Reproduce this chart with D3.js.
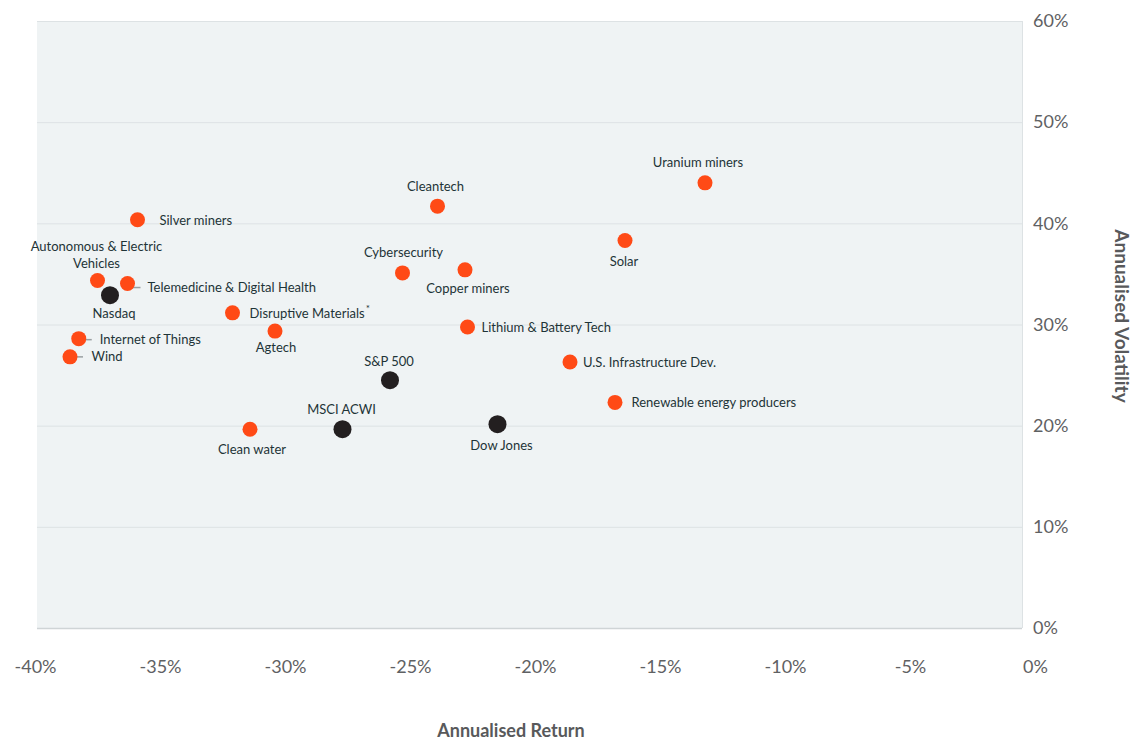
<!DOCTYPE html>
<html>
<head>
<meta charset="utf-8">
<script src="https://cdnjs.cloudflare.com/ajax/libs/d3/7.8.5/d3.min.js"></script>
<style>
  body { margin: 0; background: #fff; }
  svg { display: block; font-family: Lato, "Open Sans", sans-serif; }
</style>
</head>
<body>
<script>
// Chart data: annualised return (%) vs annualised volatility (%)
var names = ["Uranium miners", "Cleantech", "Silver miners", "Solar", "Cybersecurity",
  "Copper miners", "Autonomous & Electric Vehicles", "Telemedicine & Digital Health",
  "Nasdaq", "Disruptive Materials", "Agtech", "Lithium & Battery Tech",
  "Internet of Things", "Wind", "S&P 500", "U.S. Infrastructure Dev.",
  "Renewable energy producers", "Clean water", "MSCI ACWI", "Dow Jones"];
var returns = [-13.2, -23.9, -35.9, -16.4, -25.3, -22.8, -37.5, -36.3, -37.0, -32.1,
  -30.4, -22.7, -38.25, -38.6, -25.8, -18.6, -16.8, -31.4, -27.7, -21.5];
var volatility = [44.0, 41.7, 40.35, 38.3, 35.1, 35.4, 34.35, 34.05, 32.9, 31.15,
  29.35, 29.75, 28.6, 26.8, 24.5, 26.3, 22.3, 19.65, 19.65, 20.15];
var isIndex = ["Nasdaq", "S&P 500", "MSCI ACWI", "Dow Jones"];
var xTicks = [-40, -35, -30, -25, -20, -15, -10, -5, 0];
var yTicks = [0, 10, 20, 30, 40, 50, 60];

// label placement: anchor, dx, dy (baseline), optional leader line length
var labelPos = {
  "Uranium miners": ["middle", -7, -16],
  "Cleantech": ["middle", -2, -15],
  "Silver miners": ["start", 22, 5],
  "Solar": ["middle", -1, 25],
  "Cybersecurity": ["middle", 1, -16],
  "Copper miners": ["middle", 3, 23],
  "Autonomous & Electric Vehicles": ["middle", -1, -29],
  "Telemedicine & Digital Health": ["start", 20, 8, 13],
  "Nasdaq": ["middle", 4, 23],
  "Disruptive Materials": ["start", 17, 5],
  "Agtech": ["middle", 1, 21],
  "Lithium & Battery Tech": ["start", 14, 5],
  "Internet of Things": ["start", 21, 5, 13],
  "Wind": ["start", 21.5, 4, 13],
  "S&P 500": ["middle", -1, -14],
  "U.S. Infrastructure Dev.": ["start", 13, 5],
  "Renewable energy producers": ["start", 16.5, 5],
  "Clean water": ["middle", 2, 25],
  "MSCI ACWI": ["middle", -1, -15],
  "Dow Jones": ["middle", 4, 26]
};

var width = 1145, height = 742;
var plot = {left: 37, right: 1022, top: 21, bottom: 628};

var svg = d3.select("body").append("svg")
  .attr("width", width)
  .attr("height", height);

var x = d3.scaleLinear().domain([-40, 0]).range([35, 1035]);
var y = d3.scaleLinear().domain([0, 60]).range([plot.bottom, plot.top]);

// plot background
svg.append("rect")
  .attr("x", plot.left)
  .attr("y", plot.top)
  .attr("width", plot.right - plot.left)
  .attr("height", plot.bottom - plot.top)
  .attr("fill", "#eff3f4");

// gridlines
svg.append("g").selectAll("line")
  .data(yTicks)
  .enter().append("line")
  .attr("x1", plot.left)
  .attr("x2", plot.right)
  .attr("y1", function(d) { return y(d) + 0.5; })
  .attr("y2", function(d) { return y(d) + 0.5; })
  .attr("stroke", function(d) { return d === 0 ? "#cfd4d6" : "#dde2e4"; })
  .attr("stroke-width", function(d) { return d === 0 ? 1.5 : 1; });

svg.append("line")
  .attr("x1", plot.right + 0.5).attr("x2", plot.right + 0.5)
  .attr("y1", plot.top).attr("y2", plot.bottom)
  .attr("stroke", "#dde2e4");

// x axis
var xAxis = svg.append("g")
  .attr("transform", "translate(0," + 660 + ")")
  .call(d3.axisBottom(x).tickValues(xTicks).tickSize(0).tickPadding(0)
    .tickFormat(function(d) { return d + "%"; }));
xAxis.select(".domain").remove();
xAxis.selectAll("text")
  .attr("dy", "0.71em")
  .attr("fill", "#5f6163")
  .style("font-size", "18px")
  .style("font-family", "Lato, sans-serif");

// y axis on the right
var yAxis = svg.append("g")
  .attr("transform", "translate(" + 1033 + ",0)")
  .call(d3.axisRight(y).tickValues(yTicks).tickSize(0).tickPadding(0)
    .tickFormat(function(d) { return d + "%"; }));
yAxis.select(".domain").remove();
yAxis.selectAll("text")
  .attr("fill", "#5f6163")
  .style("font-size", "18px")
  .style("font-family", "Lato, sans-serif");

// axis titles
svg.append("text")
  .attr("x", 511)
  .attr("y", 737)
  .attr("text-anchor", "middle")
  .attr("fill", "#58595b")
  .style("font-size", "18px")
  .style("font-weight", "bold")
  .text("Annualised Return");

svg.append("text")
  .attr("transform", "translate(1115,316) rotate(90)")
  .attr("text-anchor", "middle")
  .attr("fill", "#58595b")
  .style("font-size", "19px")
  .style("font-weight", "bold")
  .text("Annualised Volatility");

var points = names.map(function(n, i) {
  return {name: n, ret: returns[i], vol: volatility[i], index: isIndex.indexOf(n) >= 0};
});

// leader lines
var gLabels = svg.append("g");
points.forEach(function(d) {
  var p = labelPos[d.name];
  if (p[3]) {
    gLabels.append("line")
      .attr("x1", x(d.ret) + 2)
      .attr("x2", x(d.ret) + p[3])
      .attr("y1", y(d.vol) + p[2] - 4)
      .attr("y2", y(d.vol) + p[2] - 4)
      .attr("stroke", "#9a9fa2")
      .attr("stroke-width", 1.5);
  }
});

// markers
svg.append("g").selectAll("circle")
  .data(points)
  .enter().append("circle")
  .attr("cx", function(d) { return x(d.ret); })
  .attr("cy", function(d) { return y(d.vol); })
  .attr("r", function(d) { return d.index ? 9 : 7.5; })
  .attr("fill", function(d) { return d.index ? "#231f20" : "#ff4a16"; });

// labels
points.forEach(function(d) {
  var p = labelPos[d.name];
  var t = gLabels.append("text")
    .attr("x", x(d.ret) + p[1])
    .attr("y", y(d.vol) + p[2])
    .attr("text-anchor", p[0])
    .attr("fill", "#1e3437")
    .style("font-size", "13px");
  if (d.name === "Autonomous & Electric Vehicles") {
    t.append("tspan").attr("x", x(d.ret) + p[1]).text("Autonomous & Electric");
    t.append("tspan").attr("x", x(d.ret) + p[1]).attr("dy", 17).text("Vehicles");
  } else if (d.name === "Disruptive Materials") {
    t.text(d.name);
    t.append("tspan").attr("dx", 1).attr("dy", -6).style("font-size", "10px").text("*");
  } else {
    t.text(d.name);
  }
});
</script>
</body>
</html>
